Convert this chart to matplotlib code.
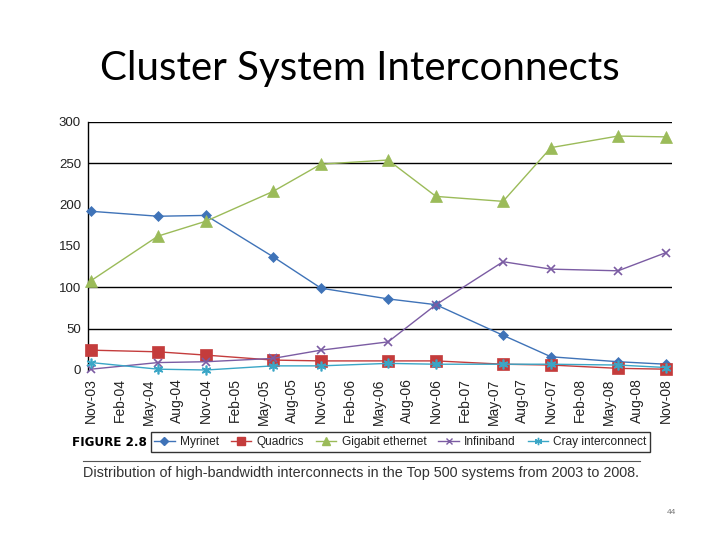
#!/usr/bin/env python3
"""Cluster System Interconnects - Top 500 interconnect distribution, 2003-2008."""
import matplotlib
matplotlib.use('Agg')
import matplotlib.pyplot as plt
from matplotlib.lines import Line2D

# Data: Top500 list releases (months counted from Nov-03)
LIST_MONTHS = [0, 7, 12, 19, 24, 31, 36, 43, 48, 55, 60]
TICK_LABELS = ['Nov-03', 'Feb-04', 'May-04', 'Aug-04', 'Nov-04', 'Feb-05', 'May-05',
               'Aug-05', 'Nov-05', 'Feb-06', 'May-06', 'Aug-06', 'Nov-06', 'Feb-07',
               'May-07', 'Aug-07', 'Nov-07', 'Feb-08', 'May-08', 'Aug-08', 'Nov-08']
TICK_MONTHS = list(range(0, 61, 3))

myrinet = [192, 186, 187, 137, 99, 86, 79, 42, 16, 10, 7]
quadrics = [24, 22, 18, 12, 11, 11, 11, 7, 6, 2, 1]
gigabit = [108, 162, 180, 216, 249, 254, 210, 204, 269, 283, 282]
infiniband = [1, 9, 10, 14, 24, 34, 79, 131, 122, 120, 142]
cray = [9, 1, 0, 5, 5, 8, 7, 7, 7, 6, 3]

SERIES = [
    ('Myrinet', myrinet, '#3f73b8', 'D', 5),
    ('Quadrics', quadrics, '#c43c3c', 's', 8.5),
    ('Gigabit ethernet', gigabit, '#9bbb59', '^', 8),
    ('Infiniband', infiniband, '#7b5ca3', 'x', 6),
    ('Cray interconnect', cray, '#3aa6c6', (6, 2, 0), 7),
]

plt.rcParams['font.family'] = ['Liberation Sans', 'DejaVu Sans']

fig = plt.figure(figsize=(7.2, 5.4), dpi=100)
fig.patch.set_facecolor('white')

fig.text(0.5, 0.873, 'Cluster System Interconnects', ha='center', va='center',
         fontsize=29, family=['Lato', 'DejaVu Sans'], color='black')

ax = fig.add_axes([88 / 720, 1 - 370 / 540, (672 - 88) / 720, (370 - 122) / 540])
for name, vals, color, marker, ms in SERIES:
    ax.plot(LIST_MONTHS, vals, color=color, marker=marker, markersize=ms,
            linewidth=1.0, markeredgewidth=1.2 if marker in ('x', (6, 2, 0)) else 0.5,
            markeredgecolor=color, clip_on=False, zorder=3)

ax.set_xlim(-0.31, 60.63)
ax.set_ylim(0, 300)
ax.set_yticks([0, 50, 100, 150, 200, 250, 300])
ax.set_xticks(TICK_MONTHS)
ax.set_xticklabels(TICK_LABELS, rotation=90, fontsize=10)
ax.tick_params(axis='both', length=0, colors='#222222')
ax.tick_params(axis='y', labelsize=9.5, pad=5)
ax.tick_params(axis='x', pad=6)
for y in [50, 100, 250, 300]:
    ax.axhline(y, color='black', linewidth=1.0, zorder=1)
for side in ['top', 'right', 'bottom']:
    ax.spines[side].set_visible(False)
ax.spines['left'].set_color('black')
ax.spines['left'].set_linewidth(1.0)

handles = [Line2D([], [], color=c, marker=m, markersize=ms * 0.75, linewidth=1.0,
                  markeredgecolor=c, markeredgewidth=1.0)
           for _, _, c, m, ms in SERIES]
leg = fig.legend(handles, [s[0] for s in SERIES], loc='center',
                 bbox_to_anchor=(400.5 / 720, 1 - 442 / 540), ncol=5, fontsize=8.6,
                 frameon=True, fancybox=False, handlelength=1.7, handletextpad=0.45,
                 columnspacing=1.0, borderpad=0.3, borderaxespad=0)
leg.get_frame().set_edgecolor('black')
leg.get_frame().set_linewidth(1.0)
for t in leg.get_texts():
    t.set_color('#222222')

fig.text(72 / 720, 1 - 442 / 540, 'FIGURE 2.8', ha='left', va='center',
         fontsize=9.5, fontweight='bold', fontstretch='condensed',
         family=['DejaVu Sans'])
fig.add_artist(Line2D([83 / 720, 640 / 720], [1 - 461 / 540, 1 - 461 / 540],
                      color='#555555', linewidth=0.8))
fig.text(83 / 720, 1 - 473 / 540,
         'Distribution of high-bandwidth interconnects in the Top 500 systems from 2003 to 2008.',
         ha='left', va='center', fontsize=10.4, color='#333333')
fig.text(671 / 720, 1 - 513 / 540, '44', ha='center', va='center', fontsize=6, color='#777777')

fig.savefig('out.png', dpi=100)
